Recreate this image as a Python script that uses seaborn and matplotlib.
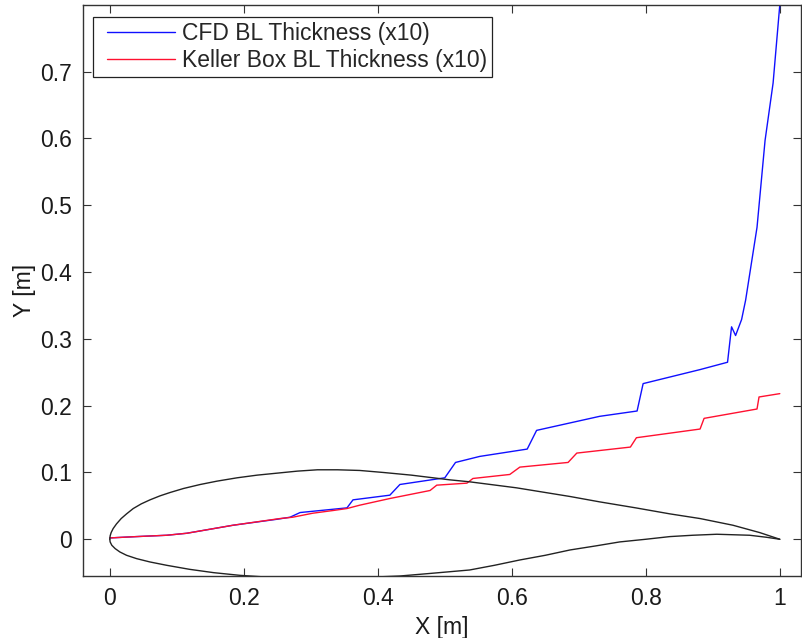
import matplotlib
matplotlib.use("Agg")
import matplotlib.pyplot as plt
from matplotlib.lines import Line2D
from matplotlib.legend_handler import HandlerLine2D
import seaborn as sns
import pandas as pd

# Airfoil surfaces (chord-normalised coordinates)
upper_x = [0.0, 0.0005, 0.002, 0.005, 0.01, 0.017, 0.025, 0.035, 0.047, 0.06, 0.075,
           0.09, 0.11, 0.135, 0.16, 0.19, 0.22, 0.25, 0.28, 0.31, 0.34, 0.373, 0.408,
           0.45, 0.507, 0.537, 0.607, 0.687, 0.731, 0.785, 0.836, 0.881, 0.93, 0.97, 1.0]
upper_y = [0.0, 0.005, 0.010, 0.016, 0.023, 0.031, 0.038, 0.046, 0.053, 0.059, 0.065,
           0.070, 0.076, 0.082, 0.087, 0.092, 0.096, 0.099, 0.102, 0.104, 0.104, 0.103,
           0.100, 0.096, 0.089, 0.086, 0.077, 0.064, 0.056, 0.047, 0.038, 0.031, 0.021,
           0.010, 0.0]
lower_x = [0.0, 0.0005, 0.003, 0.008, 0.015, 0.025, 0.04, 0.06, 0.085, 0.119, 0.155,
           0.194, 0.24, 0.3, 0.36, 0.433, 0.48, 0.537, 0.574, 0.612, 0.65, 0.687, 0.725,
           0.761, 0.8, 0.836, 0.87, 0.906, 0.955, 0.98, 1.0]
lower_y = [0.0, -0.004, -0.009, -0.014, -0.019, -0.024, -0.029, -0.034, -0.039, -0.045,
           -0.050, -0.054, -0.057, -0.058, -0.058, -0.055, -0.051, -0.046, -0.039,
           -0.031, -0.024, -0.016, -0.010, -0.004, 0.0, 0.004, 0.006, 0.0075, 0.006,
           0.003, 0.0]

# Boundary-layer thickness (scaled x10)
cfd_x = [0.0, 0.04, 0.085, 0.115, 0.184, 0.25, 0.269, 0.284, 0.354, 0.363, 0.418,
         0.433, 0.5, 0.516, 0.552, 0.623, 0.637, 0.731, 0.787, 0.796, 0.881, 0.922,
         0.928, 0.934, 0.943, 0.949, 0.966, 0.978, 0.99, 1.0]
cfd_y = [0.002, 0.004, 0.006, 0.009, 0.021, 0.03, 0.033, 0.040, 0.047, 0.059, 0.066,
         0.082, 0.092, 0.115, 0.124, 0.135, 0.163, 0.184, 0.192, 0.233, 0.254, 0.265,
         0.318, 0.305, 0.329, 0.358, 0.467, 0.597, 0.683, 0.80]
kb_x = [0.0, 0.04, 0.085, 0.115, 0.184, 0.254, 0.273, 0.303, 0.333, 0.354, 0.373,
        0.418, 0.478, 0.488, 0.533, 0.542, 0.597, 0.612, 0.684, 0.697, 0.777, 0.786,
        0.881, 0.887, 0.966, 0.969, 1.0]
kb_y = [0.002, 0.004, 0.006, 0.009, 0.021, 0.031, 0.033, 0.039, 0.043, 0.046, 0.051,
        0.061, 0.073, 0.081, 0.084, 0.091, 0.097, 0.108, 0.115, 0.129, 0.138, 0.152,
        0.165, 0.181, 0.195, 0.213, 0.218]

sns.set_style("white")
plt.rcParams["font.family"] = ["Liberation Sans", "DejaVu Sans"]

fig = plt.figure(figsize=(8.02, 6.38), dpi=100)
ax = fig.add_axes([83 / 802, 62 / 638, 718 / 802, 571 / 638])

cfd = pd.DataFrame({"x": cfd_x, "y": cfd_y})
kb = pd.DataFrame({"x": kb_x, "y": kb_y})
up = pd.DataFrame({"x": upper_x, "y": upper_y})
lo = pd.DataFrame({"x": lower_x, "y": lower_y})

sns.lineplot(data=cfd, x="x", y="y", sort=False, estimator=None, color="#1010ff",
             lw=1.0, ax=ax, label="CFD BL Thickness (x10)")
sns.lineplot(data=kb, x="x", y="y", sort=False, estimator=None, color="#ff1030",
             lw=1.0, ax=ax, label="Keller Box BL Thickness (x10)")
sns.lineplot(data=up, x="x", y="y", sort=False, estimator=None, color="#222222",
             lw=1.0, ax=ax)
sns.lineplot(data=lo, x="x", y="y", sort=False, estimator=None, color="#222222",
             lw=1.0, ax=ax)

ax.set_xlim(-0.04, -0.04 + 718 / 670)
ax.set_ylim(-0.055, -0.055 + 571 / 668)
ax.set_xticks([0, 0.2, 0.4, 0.6, 0.8, 1.0])
ax.set_xticklabels(["0", "0.2", "0.4", "0.6", "0.8", "1"])
ax.set_yticks([0, 0.1, 0.2, 0.3, 0.4, 0.5, 0.6, 0.7])
ax.set_yticklabels(["0", "0.1", "0.2", "0.3", "0.4", "0.5", "0.6", "0.7"])
ax.tick_params(direction="in", length=5.5, width=0.8, colors="#333333",
               labelcolor="#1a1a1a", labelsize=16.5, top=True, right=True,
               bottom=True, left=True, pad=8)
for s in ax.spines.values():
    s.set_color("#333333")
    s.set_linewidth(1.0)

ax.set_xlabel("X [m]", fontsize=16.5, color="#1a1a1a", labelpad=4)
ax.set_ylabel("Y [m]", fontsize=16.5, color="#1a1a1a", labelpad=3)

leg = ax.legend(loc="upper left", bbox_to_anchor=(0.0145, 0.979), fontsize=16.5,
                frameon=True, fancybox=False, framealpha=1, edgecolor="#222222",
                borderpad=0.2, handlelength=3.38, handletextpad=0.3,
                labelspacing=0.2, borderaxespad=0,
                handler_map={Line2D: HandlerLine2D(xpad=0.41)})
leg.get_frame().set_linewidth(0.9)

fig.savefig("out.png", dpi=100)
